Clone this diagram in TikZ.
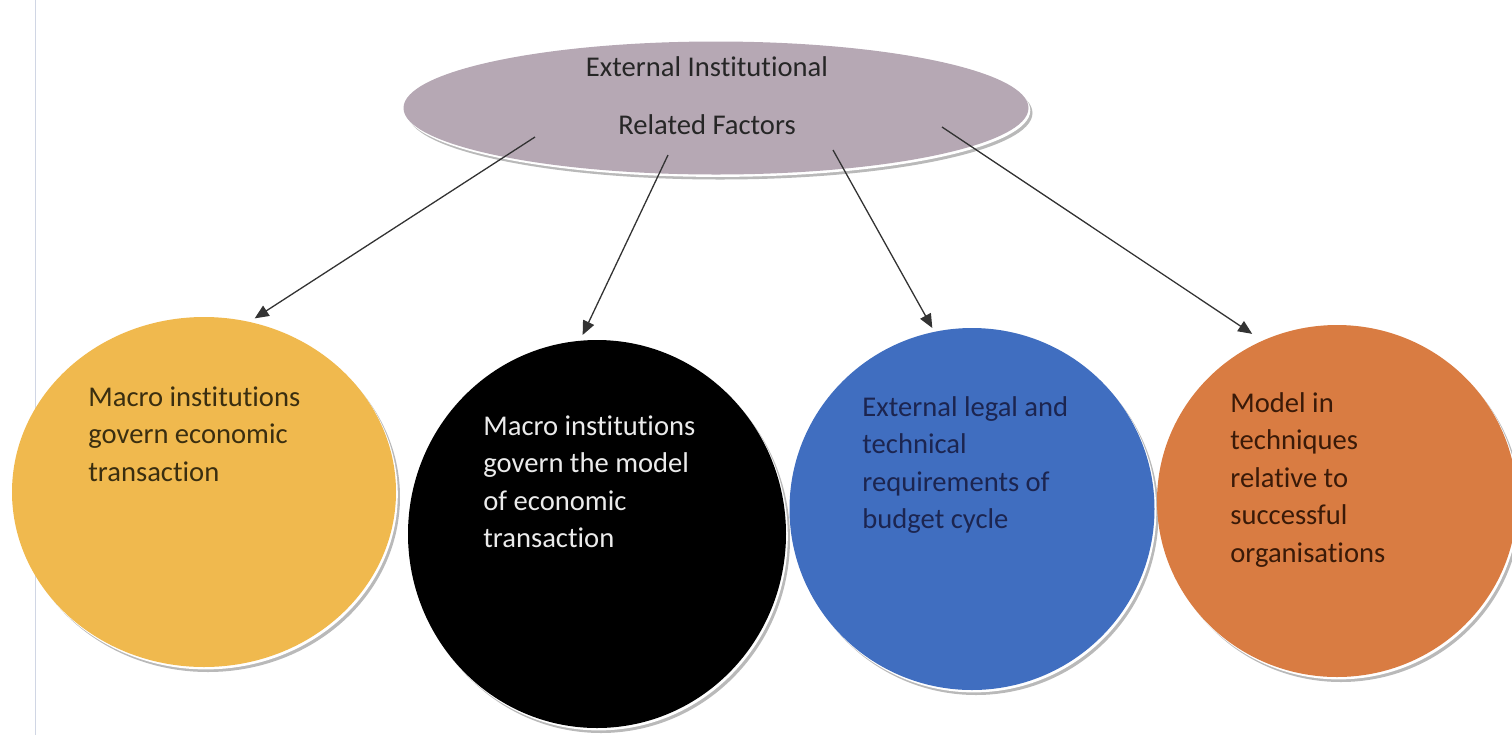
\documentclass[tikz,border=0pt]{standalone}
\usepackage{fontspec}
\setmainfont{Carlito}[Ligatures=NoCommon]
\usepackage{xcolor}
\usetikzlibrary{arrows.meta,positioning,shapes,shadows}

\definecolor{topgray}{RGB}{182,168,180}
\definecolor{gold}{RGB}{240,185,78}
\definecolor{cblue}{RGB}{64,110,192}
\definecolor{corange}{RGB}{217,124,66}
\definecolor{marginline}{RGB}{208,214,228}

\begin{document}
\begin{tikzpicture}[x=0.5pt, y=-0.5pt,
    rim/.style={general shadow={shadow xshift=2pt,shadow yshift=-2.5pt,fill=gray!55},
        general shadow={shadow xshift=0.9pt,shadow yshift=-1.2pt,fill=white}},
    blob/.style={ellipse, rim, inner sep=0pt},
    words/.style={anchor=base west, inner sep=0pt, text width=125pt, align=flush left,
        font=\fontsize{14.3}{18.8}\selectfont},
    link/.style={draw=black!80, line width=0.65pt, -{Triangle[length=7pt,width=6pt]}}]

\useasboundingbox (0,0) rectangle (1512,735);
\draw[marginline, line width=0.5pt] (35,0) -- (35,735);

\node[blob, fill=topgray, minimum width=312.5pt, minimum height=66.5pt](top) at (716,108){};
\node[anchor=base, inner sep=0pt, align=center, text=black!85,
    font=\fontsize{14.3}{29}\selectfont](toptext) at (707,134){External Institutional\\Related Factors};

\node[blob, fill=gold, minimum width=192pt, minimum height=175pt](c1) at (204,492){};
\node[blob, fill=black, minimum width=189pt, minimum height=194pt](c2) at (597,534){};
\node[blob, fill=cblue, minimum width=182.5pt, minimum height=181pt](c3) at (972,509){};
\node[blob, fill=corange, minimum width=180pt, minimum height=176pt](c4) at (1337,501){};

\node[words, text={rgb,255:red,58;green,46;blue,16}](t1) at (88,406)
    {Macro institutions\\govern economic\\transaction};
\node[words, text=black!8](t2) at (483,435)
    {Macro institutions\\govern the model\\of economic\\transaction};
\node[words, text={rgb,255:red,28;green,37;blue,80}](t3) at (862,416)
    {External legal and\\technical\\requirements of\\budget cycle};
\node[words, text={rgb,255:red,58;green,26;blue,8}](t4) at (1230,412)
    {Model in\\techniques\\relative to\\successful\\organisations};

% arrows leave from inside the top ellipse
\coordinate (s1) at (535,137);
\coordinate (s2) at (668,155);
\coordinate (s3) at (833,150);
\coordinate (s4) at (942,127);

\draw[link, shorten >=3pt] (s1) -- (c1.75);
\draw[link, shorten >=3pt] (s2) -- (c2.95);
\draw[link, shorten >=2pt] (s3) -- (c3.102);
\draw[link, shorten >=6pt] (s4) -- (c4.115);

\end{tikzpicture}
\end{document}
